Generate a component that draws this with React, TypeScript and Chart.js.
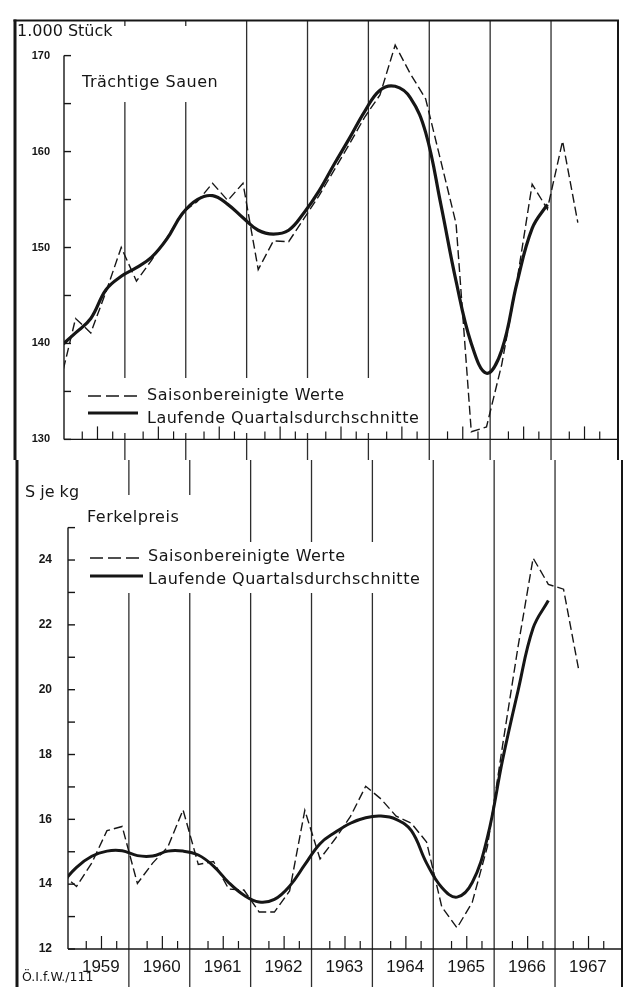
import { useEffect, useRef } from 'react';
import { Chart, registerables } from 'chart.js';

Chart.register(...registerables);

// ---------------- data ----------------
const YEARS = [1959, 1960, 1961, 1962, 1963, 1964, 1965, 1966, 1967];
const SERIES_LABELS = ['Saisonbereinigte Werte', 'Laufende Quartalsdurchschnitte'];

// Trächtige Sauen (1.000 Stück), quarterly values from IV/1958
const sowsAdjusted = [
  136.0,
  142.6, 141.1, 145.4, 150.0,
  146.5, 148.7, 151.0, 153.6,
  154.8, 156.7, 154.9, 156.7,
  147.7, 150.7, 150.6, 153.0,
  155.4, 158.1, 160.8, 163.6,
  165.9, 171.1, 168.1, 165.5,
  159.0, 152.5, 130.8, 131.3,
  137.8, 146.5, 156.6, 154.0,
  161.1, 152.6,
];
const sowsAverage = [
  139.7,
  141.1, 142.6, 145.6, 147.0,
  147.9, 149.0, 150.9, 153.5,
  155.0, 155.4, 154.5, 153.1,
  151.8, 151.4, 151.8, 153.6,
  155.9, 158.7, 161.4, 164.2,
  166.4, 166.8, 165.6, 162.0,
  154.5, 146.5, 140.0, 136.9,
  139.3, 146.3, 152.0, 154.5,
];

// Ferkelpreis (S je kg), quarterly values from IV/1958
const priceAdjusted = [
  14.34,
  13.93, 14.65, 15.65, 15.78,
  14.02, 14.65, 15.15, 16.29,
  14.61, 14.7, 13.85, 13.82,
  13.14, 13.14, 13.79, 16.28,
  14.78, 15.4, 16.09, 17.02,
  16.63, 16.1, 15.88, 15.3,
  13.3, 12.65, 13.44, 15.17,
  18.3, 21.3, 24.06, 23.25,
  23.1, 20.6,
];
const priceAverage = [
  14.0,
  14.52, 14.86, 15.02, 15.03,
  14.88, 14.87, 15.02, 15.02,
  14.9, 14.56, 14.05, 13.66,
  13.45, 13.53, 13.94, 14.6,
  15.25, 15.6, 15.88, 16.05,
  16.1, 16.0, 15.65, 14.65,
  13.9, 13.6, 14.05, 15.45,
  17.85, 19.95, 21.9, 22.75,
];

const sowsTicks = [130, 140, 150, 160, 170];
const sowsMinorTicks = [135, 145, 155, 165];
const priceTicks = [12, 14, 16, 18, 20, 22, 24];
const priceMinorTicks = [13, 15, 17, 19, 21, 23, 25];

// ---------------- style ----------------
const INK = '#161616';
const RULE = '#2e2e2e';
const SANS = "'DejaVu Sans', sans-serif";
const NUM = "'Liberation Sans', Arial, sans-serif";
const QUARTER_STEP = 0.25;
const TICK_SHIFT = 0.05;
const LABEL_SHIFT = 0.54;
const X_MIN = 1959;
const X_MAX = 1968.1;

type TextItem = { text: string; x: number; y: number; size: number; spacing: number };
type LegendRow = { sampleY: number; textY: number };
type PanelSpec = {
  width: number;
  height: number;
  top: number;
  padding: { left: number; right: number; top: number; bottom: number };
  xAxisHeight: number;
  yMin: number;
  yMax: number;
  ticks: number[];
  minorTicks: number[];
  axisTop: number;
  tickSize: number;
  tickPadding: number;
  firstX: number;
  adjusted: number[];
  average: number[];
  avgWidth: number;
  showYears: boolean;
  borderLeft: number;
  topBorder: boolean;
  boxes: number[][];
  texts: TextItem[];
  legendX: number;
  legendLen: number;
  legendTextX: number;
  legendRows: LegendRow[];
};

function quarterPoints(values: number[], firstX: number) {
  return values.map((v, i) => ({ x: firstX + i * QUARTER_STEP, y: v }));
}

function makeDecor(spec: PanelSpec) {
  return {
    id: 'decor',
    beforeDatasetsDraw(chart: any) {
      const ctx: CanvasRenderingContext2D = chart.ctx;
      const a = chart.chartArea;
      const xs = chart.scales.x;
      const ys = chart.scales.y;
      const H = chart.height;
      const lineTop = spec.topBorder ? a.top : 0;
      const seg = (x0: number, y0: number, x1: number, y1: number) => {
        ctx.beginPath();
        ctx.moveTo(x0, y0);
        ctx.lineTo(x1, y1);
        ctx.stroke();
      };
      ctx.save();
      // year separators
      ctx.strokeStyle = RULE;
      ctx.lineWidth = 1.3;
      for (const yr of YEARS.slice(1)) {
        const px = xs.getPixelForValue(yr);
        seg(px, lineTop, px, H);
      }
      // frame
      ctx.strokeStyle = INK;
      ctx.lineWidth = 2;
      seg(a.right, lineTop, a.right, H);
      ctx.lineWidth = 3;
      seg(spec.borderLeft, lineTop - 1, spec.borderLeft, H);
      if (spec.topBorder) {
        ctx.lineWidth = 2;
        seg(spec.borderLeft - 1.5, a.top, a.right + 1, a.top);
      }
      // white boxes behind texts
      ctx.fillStyle = '#ffffff';
      for (const b of spec.boxes) ctx.fillRect(b[0], b[1], b[2] - b[0], b[3] - b[1]);
      // axes
      ctx.strokeStyle = INK;
      ctx.lineWidth = 1.4;
      const topPx = ys.getPixelForValue(spec.axisTop);
      seg(a.left, topPx, a.left, a.bottom);
      seg(a.left, a.bottom, a.right, a.bottom);
      for (const v of [...spec.ticks, ...spec.minorTicks]) {
        const py = ys.getPixelForValue(v);
        seg(a.left, py, a.left + 7, py);
      }
      ctx.lineWidth = 1.2;
      for (const yr of YEARS) {
        for (let q = 1; q <= 3; q++) {
          const px = xs.getPixelForValue(yr + q * QUARTER_STEP + TICK_SHIFT);
          seg(px, a.bottom, px, a.bottom - (q === 2 ? 13 : 8));
        }
      }
      // texts
      ctx.fillStyle = INK;
      ctx.textBaseline = 'middle';
      ctx.textAlign = 'left';
      for (const t of spec.texts) {
        ctx.font = `${t.size}px ${SANS}`;
        (ctx as any).letterSpacing = `${t.spacing}px`;
        ctx.fillText(t.text, t.x, t.y);
      }
      // legend, from the datasets themselves
      chart.data.datasets.forEach((ds: any, i: number) => {
        const row = spec.legendRows[i];
        ctx.strokeStyle = ds.borderColor;
        ctx.lineWidth = ds.borderWidth;
        ctx.setLineDash(ds.borderDash && ds.borderDash.length ? [13, 5] : []);
        seg(spec.legendX, row.sampleY, spec.legendX + spec.legendLen, row.sampleY);
        ctx.setLineDash([]);
        ctx.font = `16px ${SANS}`;
        (ctx as any).letterSpacing = '0.5px';
        ctx.fillText(ds.label, spec.legendTextX, row.textY);
      });
      (ctx as any).letterSpacing = '0px';
      ctx.restore();
    },
  };
}

function buildConfig(spec: PanelSpec): any {
  return {
    type: 'line',
    data: {
      datasets: [
        {
          label: SERIES_LABELS[0],
          data: quarterPoints(spec.adjusted, spec.firstX),
          borderColor: INK,
          borderWidth: 1.4,
          borderDash: [9, 4],
          pointRadius: 0,
          tension: 0,
          fill: false,
        },
        {
          label: SERIES_LABELS[1],
          data: quarterPoints(spec.average, spec.firstX),
          borderColor: INK,
          borderWidth: spec.avgWidth,
          pointRadius: 0,
          tension: 0.4,
          fill: false,
        },
      ],
    },
    options: {
      animation: false,
      responsive: false,
      events: [],
      layout: { padding: spec.padding },
      plugins: { legend: { display: false }, tooltip: { enabled: false }, title: { display: false } },
      scales: {
        x: {
          type: 'linear',
          min: X_MIN,
          max: X_MAX,
          grid: { display: false, drawTicks: false },
          border: { display: false },
          afterBuildTicks: (s: any) => {
            s.ticks = YEARS.map((y) => ({ value: y + LABEL_SHIFT }));
          },
          afterFit: (s: any) => {
            s.height = spec.xAxisHeight;
          },
          ticks: {
            display: spec.showYears,
            autoSkip: false,
            maxRotation: 0,
            padding: 8,
            color: INK,
            font: { family: NUM, size: 17 },
            callback: (_v: any, i: number) => String(YEARS[i]),
          },
        },
        y: {
          type: 'linear',
          min: spec.yMin,
          max: spec.yMax,
          grid: { display: false, drawTicks: false },
          border: { display: false },
          afterBuildTicks: (s: any) => {
            s.ticks = spec.ticks.map((v) => ({ value: v }));
          },
          afterFit: (s: any) => {
            s.width = 64;
          },
          ticks: {
            padding: spec.tickPadding,
            color: INK,
            font: { family: NUM, size: spec.tickSize, weight: 'bold' },
            callback: (v: any) => String(v),
          },
        },
      },
    },
    plugins: [makeDecor(spec)],
  };
}

const topPanel: PanelSpec = {
  width: 627,
  height: 460,
  top: 0,
  padding: { left: 0, right: 9, top: 10, bottom: 0 },
  xAxisHeight: 7,
  yMin: 130,
  yMax: 173.65,
  ticks: sowsTicks,
  minorTicks: sowsMinorTicks,
  axisTop: 170,
  tickSize: 11,
  tickPadding: 14,
  firstX: 1958.94,
  adjusted: sowsAdjusted,
  average: sowsAverage,
  avgWidth: 3.2,
  showYears: false,
  borderLeft: 15,
  topBorder: true,
  boxes: [
    [72, 26, 236, 102],
    [84, 378, 425, 433],
  ],
  texts: [
    { text: '1.000 Stück', x: 17, y: 32, size: 16, spacing: 0 },
    { text: 'Trächtige Sauen', x: 82, y: 83, size: 16, spacing: 0.5 },
  ],
  legendX: 88,
  legendLen: 50,
  legendTextX: 147,
  legendRows: [
    { sampleY: 396, textY: 396 },
    { sampleY: 413, textY: 419 },
  ],
};

const bottomPanel: PanelSpec = {
  width: 627,
  height: 527,
  top: 460,
  padding: { left: 4, right: 5, top: 0, bottom: 0 },
  xAxisHeight: 38,
  yMin: 12,
  yMax: 26.37,
  ticks: priceTicks,
  minorTicks: priceMinorTicks,
  axisTop: 25,
  tickSize: 12,
  tickPadding: 16,
  firstX: 1958.89,
  adjusted: priceAdjusted,
  average: priceAverage,
  avgWidth: 3,
  showYears: true,
  borderLeft: 17,
  topBorder: false,
  boxes: [
    [84, 35, 200, 82],
    [84, 82, 427, 133],
  ],
  texts: [
    { text: 'S je kg', x: 25, y: 33, size: 16, spacing: 0 },
    { text: 'Ferkelpreis', x: 87, y: 58, size: 16, spacing: 0.5 },
    { text: 'Ö.I.f.W./111', x: 22, y: 518, size: 12.5, spacing: 0 },
  ],
  legendX: 90,
  legendLen: 53,
  legendTextX: 148,
  legendRows: [
    { sampleY: 98, textY: 97 },
    { sampleY: 116, textY: 120 },
  ],
};

function Panel({ spec }: { spec: PanelSpec }) {
  const ref = useRef<HTMLCanvasElement | null>(null);
  useEffect(() => {
    if (!ref.current) return;
    const chart = new Chart(ref.current, buildConfig(spec));
    return () => chart.destroy();
  }, [spec]);
  return (
    <canvas
      ref={ref}
      width={spec.width}
      height={spec.height}
      style={{
        position: 'absolute',
        left: 0,
        top: spec.top,
        width: spec.width,
        height: spec.height,
        display: 'block',
      }}
    />
  );
}

export default function App() {
  return (
    <div
      style={{
        position: 'absolute',
        left: 0,
        top: 0,
        width: 627,
        height: 987,
        overflow: 'hidden',
        background: '#ffffff',
      }}
    >
      <Panel spec={topPanel} />
      <Panel spec={bottomPanel} />
    </div>
  );
}
